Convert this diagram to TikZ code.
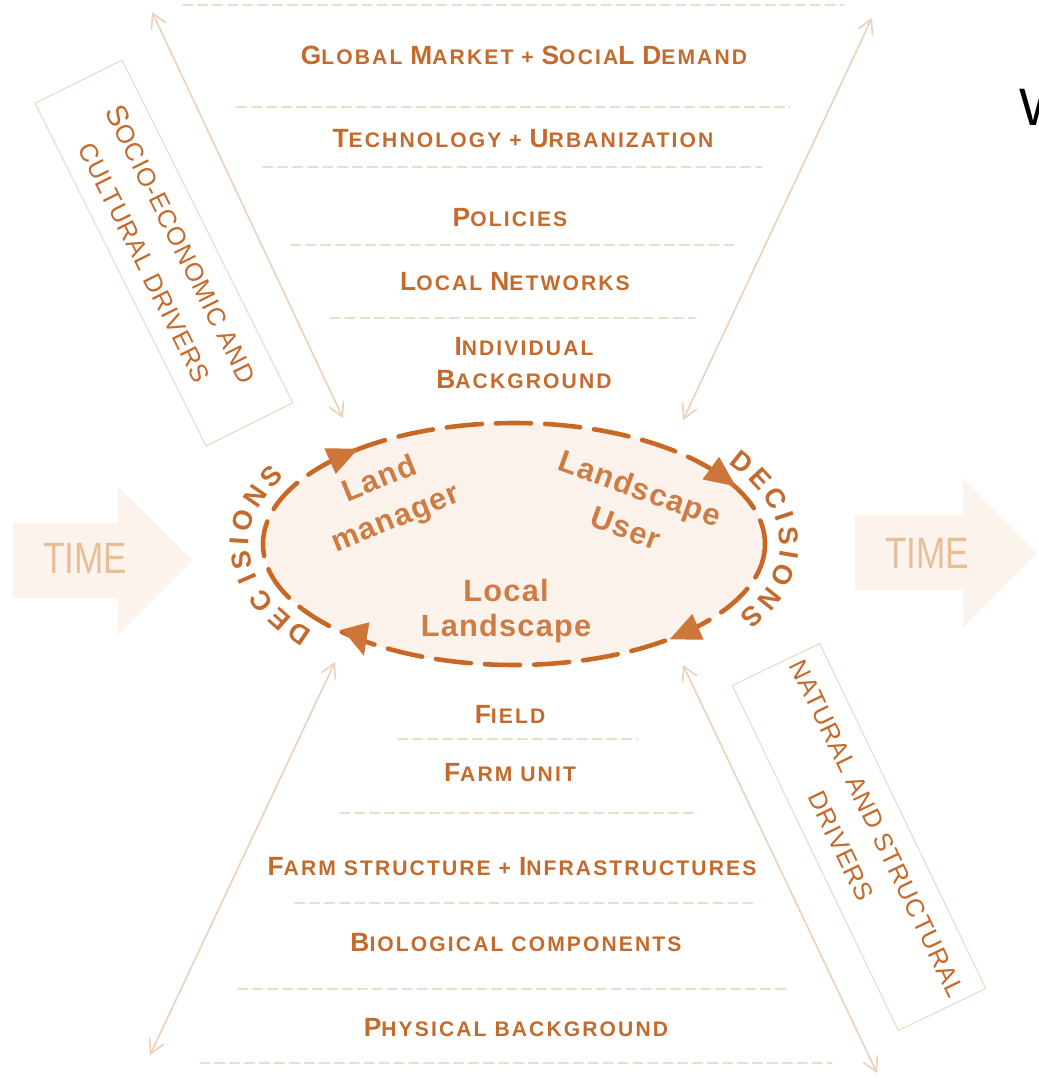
\documentclass[tikz,border=0pt]{standalone}
\usepackage{fontspec}
\setmainfont{Liberation Sans}
\newfontfamily\capfont[LetterSpace=10]{Liberation Sans}
\newfontfamily\inkfont[LetterSpace=4]{Liberation Sans}
\newfontfamily\drvfont[LetterSpace=3]{Liberation Sans}
\usetikzlibrary{arrows.meta,decorations.text}

\definecolor{txtor}{RGB}{196,106,44}
\definecolor{inkor}{RGB}{206,124,68}
\definecolor{ringor}{RGB}{200,104,36}
\definecolor{tipcol}{RGB}{205,118,58}
\definecolor{sepcol}{RGB}{240,218,200}
\definecolor{armcol}{RGB}{236,208,184}
\definecolor{boxcol}{RGB}{241,220,204}
\definecolor{ringfill}{RGB}{250,242,235}
\definecolor{timefill}{RGB}{252,244,236}
\definecolor{timetxt}{RGB}{232,190,152}

% larger initial of a small-caps word
\newcommand{\capl}[1]{{\fontsize{15}{18}\selectfont #1}}

\tikzset{
  lvl/.style={font=\capfont\bfseries\fontsize{12}{19}\selectfont, text=txtor, inner sep=0pt},
  sepline/.style={draw=sepcol, line width=0.8pt, dash pattern=on 5.5pt off 3pt},
  drvarrow/.style={draw=armcol, line width=0.9pt,
    {Straight Barb[length=8pt,width=9pt]}-{Straight Barb[length=8pt,width=9pt]}},
  drvbox/.style={draw=boxcol, line width=0.7pt, font=\drvfont\fontsize{14.5}{23}\selectfont,
    text=txtor, align=center, minimum width=7.66cm, minimum height=1.94cm, inner sep=0pt},
  timearrow/.style={fill=timefill},
  timetext/.style={font=\fontsize{25}{28}\selectfont, text=timetxt, inner sep=0pt},
  actor/.style={font=\inkfont\bfseries\fontsize{17.5}{24}\selectfont, text=inkor, align=center, inner sep=0pt},
  ring/.style={draw=ringor, line width=2.6pt, dash pattern=on 20pt off 8pt},
  decis/.style={decorate, decoration={text along path, text align=center,
    text={|\bfseries\fontsize{15.5}{17}\selectfont\color{txtor}|#1}}}
}

\begin{document}
\begin{tikzpicture}[x=0.02cm, y=-0.02cm, line join=round, line cap=round]
  \useasboundingbox (0,0) rectangle (1038,1081);

  % time arrows
  \fill[timearrow] (13,523) -- (118,523) -- (118,487) -- (193,560) -- (118,635) -- (118,598) -- (13,598) -- cycle;
  \node[timetext] (timel) at (85,558) {\scalebox{0.8}[1]{TIME}};
  \fill[timearrow] (855,515) -- (963,515) -- (963,478) -- (1037,553) -- (963,628) -- (963,590) -- (855,590) -- cycle;
  \node[timetext] (timer) at (927,553) {\scalebox{0.8}[1]{TIME}};

  % driver boxes
  \node[drvbox, rotate=-63.5] (socio) at (164,253) {{\fontsize{17}{23}\selectfont S}OCIO-ECONOMIC AND\\CULTURAL DRIVERS};
  \node[drvbox, rotate=-64.3] (natur) at (859,837) {NATURAL AND STRUCTURAL\\DRIVERS};

  % separators
  \foreach \y/\xa/\xb in {5/183/843, 107/237/790, 167/263/762, 245/291/735, 318/330/695,
                          739/398/638, 813/340/695, 903/295/753, 989/238/788, 1063/200/832}
    \draw[sepline] (\xa,\y) -- (\xb,\y);

  % levels above
  \node[lvl] (glob) at (524,55) {\capl{G}LOBAL \capl{M}ARKET + \capl{S}OCIA\capl{L} \capl{D}EMAND};
  \node[lvl] (tech) at (523,139) {\capl{T}ECHNOLOGY + \capl{U}RBANIZATION};
  \node[lvl] (poli) at (510,218) {\capl{P}OLICIES};
  \node[lvl] (netw) at (515,282) {\capl{L}OCAL \capl{N}ETWORKS};
  \node[lvl, align=center] (indi) at (524,363) {\capl{I}NDIVIDUAL\\\capl{B}ACKGROUND};

  % levels below
  \node[lvl] (field) at (510,714) {\capl{F}IELD};
  \node[lvl] (farmu) at (510,773) {\capl{F}ARM UNIT};
  \node[lvl] (farms) at (512,867) {\capl{F}ARM STRUCTURE + \capl{I}NFRASTRUCTURES};
  \node[lvl] (biol) at (516,943) {\capl{B}IOLOGICAL COMPONENTS};
  \node[lvl] (phys) at (516,1028) {\capl{P}HYSICAL BACKGROUND};

  % double arrows
  \coordinate (tlA) at (152,12);   \coordinate (tlB) at (343,418);
  \coordinate (trA) at (872,18);   \coordinate (trB) at (683,420);
  \coordinate (blA) at (150,1055); \coordinate (blB) at (335,662);
  \coordinate (brA) at (877,1073); \coordinate (brB) at (683,665);
  \draw[drvarrow] (tlA) -- (tlB);
  \draw[drvarrow] (trA) -- (trB);
  \draw[drvarrow] (blA) -- (blB);
  \draw[drvarrow] (brA) -- (brB);

  % local landscape loop
  \fill[ringfill] (514,544) ellipse [x radius=251, y radius=121];
  \draw[ring] (514,544) ellipse [x radius=251, y radius=121];
  \foreach \t/\a in {227/24, 326/-36, 47/204, 128/-75}
    \fill[tipcol, shift={({514+251*cos(\t)},{544+121*sin(\t)})}, rotate=\a]
      (17,0) -- (-14,14) -- (-14,-14) -- cycle;

  \path[decis={{D\kern2.5pt}{E\kern2.5pt}{C\kern6pt}{I\kern2.5pt}{S\kern2.5pt}{I\kern2.5pt}{O\kern2.5pt}{N\kern2.5pt}S}]
    ({514+265*cos(135)},{544+135*sin(135)}) arc[start angle=135, end angle=215, x radius=265, y radius=135];
  \path[decis={{D\kern2.5pt}{E\kern2.5pt}{C\kern2.5pt}{I\kern2.5pt}{S\kern2.5pt}{I\kern2.5pt}{O\kern2.5pt}{N\kern2.5pt}S}]
    ({514+266*cos(-42)},{544+135*sin(-42)}) arc[start angle=-42, end angle=38, x radius=266, y radius=135];

  \node[actor, rotate=22] (mgr) at (388,500) {Land\\manager};
  \node[actor, rotate=-20] (usr) at (633,508) {Landscape\\User};
  \node[actor, font=\inkfont\bfseries\fontsize{17.5}{20}\selectfont] (loc) at (506,611) {Local\\Landscape};

  \node[font=\fontsize{30}{30}\selectfont, anchor=west, inner sep=0pt] (wmark) at (1019,107) {W};
\end{tikzpicture}
\end{document}
